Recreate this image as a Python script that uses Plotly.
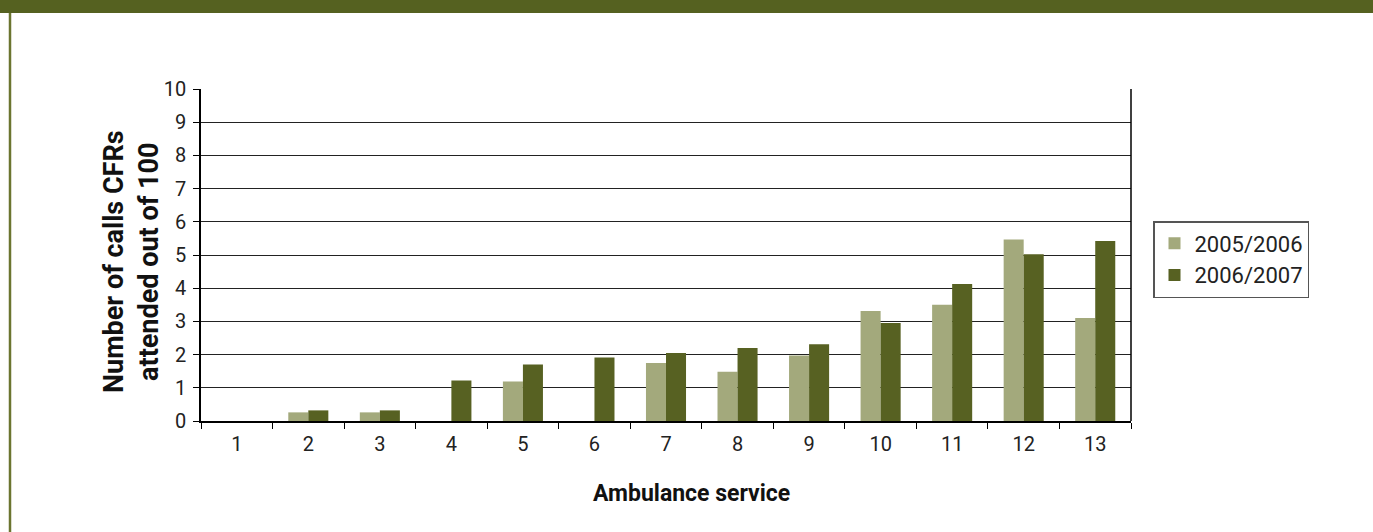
import plotly.graph_objects as go

categories = [str(i) for i in range(1, 14)]
series_2005 = [0, 0.26, 0.26, 0, 1.19, 0, 1.75, 1.48, 1.97, 3.31, 3.5, 5.47, 3.1]
series_2006 = [0, 0.32, 0.32, 1.22, 1.70, 1.91, 2.05, 2.2, 2.31, 2.95, 4.13, 5.02, 5.42]
y_ticks = list(range(0, 11))

W, H = 1373, 532
L, R, T, B = 201, 242, 89, 111
pw, ph = W - L - R, H - T - B

def px(x):
    return (x - L) / pw

def py(y):
    return (H - y - B) / ph

fig = go.Figure()
fig.add_trace(go.Bar(x=categories, y=series_2005, name="2005/2006",
                     marker=dict(color="#A3A97C", line=dict(width=0))))
fig.add_trace(go.Bar(x=categories, y=series_2006, name="2006/2007",
                     marker=dict(color="#576122", line=dict(width=0))))

font_main = "Roboto, DejaVu Sans, sans-serif"

fig.update_layout(
    width=W, height=H,
    margin=dict(l=L, r=R, t=T, b=B, pad=0),
    paper_bgcolor="white", plot_bgcolor="white",
    barmode="group", bargap=0.44, bargroupgap=0,
    font=dict(family=font_main, size=20, color="#222"),
    xaxis=dict(
        type="category", tickson="boundaries", ticks="outside", ticklen=6,
        tickcolor="black", showline=True, linecolor="black", linewidth=1.5,
        mirror=False, showgrid=False, ticklabelstandoff=4,
        tickfont=dict(size=20, color="#222"),
    ),
    yaxis=dict(
        range=[0, 10], tickvals=y_ticks, ticks="outside", ticklen=6,
        tickcolor="black", showline=True, linecolor="black", linewidth=1.5,
        showgrid=True, gridcolor="#222", gridwidth=1.2, zeroline=False,
        ticklabelstandoff=3,
        tickfont=dict(size=20, color="#222"),
    ),
    legend=dict(
        x=px(1153), y=py(221), xanchor="left", yanchor="top",
        bordercolor="#555", borderwidth=1.5, bgcolor="white",
        font=dict(size=22, color="#222"), tracegroupgap=0,
    ),
    annotations=[
        dict(text="<b>Ambulance service</b>", xref="paper", yref="paper",
             x=px(691), y=py(493), xanchor="center", yanchor="middle",
             showarrow=False, font=dict(size=23, color="#111")),
        dict(text="<b>Number of calls CFRs<br>attended out of 100</b>",
             xref="paper", yref="paper", x=px(131), y=py(262),
             xanchor="center", yanchor="middle", textangle=-90,
             showarrow=False, font=dict(size=27, color="#111")),
    ],
    shapes=[
        dict(type="rect", xref="paper", yref="paper",
             x0=px(0), x1=px(W), y0=py(13), y1=py(0),
             fillcolor="#556120", line=dict(width=0), layer="above"),
        dict(type="line", xref="paper", yref="paper",
             x0=px(10), x1=px(10), y0=py(13), y1=py(H),
             line=dict(color="#6B7530", width=2.5)),
        dict(type="line", xref="paper", yref="paper",
             x0=1, x1=1, y0=0, y1=1,
             line=dict(color="black", width=1.5)),
    ],
)

fig.write_html("out.html", config={"displayModeBar": False},
               post_script="document.body.style.margin='0';")
